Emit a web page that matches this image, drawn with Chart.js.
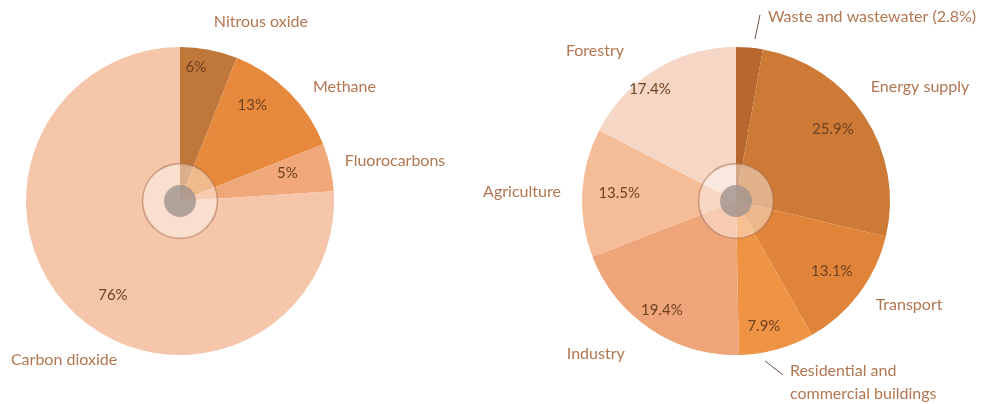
<!DOCTYPE html>
<html>
<head>
<meta charset="utf-8">
<script src="https://cdn.jsdelivr.net/npm/chart.js@4.4.1/dist/chart.umd.min.js"></script>
<style>
  html, body { margin: 0; padding: 0; background: #ffffff; }
  #wrap { position: relative; width: 987px; height: 404px; overflow: hidden; }
  canvas { position: absolute; top: 0; }
  #gasChart { left: 0; }
  #sectorChart { left: 460px; }
</style>
</head>
<body>
<div id="wrap">
  <canvas id="gasChart" width="460" height="404"></canvas>
  <canvas id="sectorChart" width="527" height="404"></canvas>
</div>
<script>
// greenhouse gases
const gasLabels = ['Nitrous oxide', 'Methane', 'Fluorocarbons', 'Carbon dioxide'];
const gasValues = [6, 13, 5, 76];
const gasColors = ['#c0773a', '#e6893c', '#f0a77a', '#f6c6ab'];

// sectors
const sectorLabels = ['Waste and wastewater (2.8%)', 'Energy supply', 'Transport',
  'Residential and|commercial buildings', 'Industry', 'Agriculture', 'Forestry'];
const sectorValues = [2.8, 25.9, 13.1, 7.9, 19.4, 13.5, 17.4];
const sectorColors = ['#b8682e', '#cc7a35', '#e0843a', '#ef9345', '#efa57a', '#f5bc98', '#f6d6c4'];

// label placement: angle offset from slice middle (deg) and distance in radii
const gasPctPos = [[-4, 0.876], [-8, 0.78], [-2, 0.72], [-7.7, 0.75]];
const gasNamePos = [[13.5, 1.276], [10.2, 1.30], [2.1, 1.42], [-7.1, 1.278]];

const sectorPctPos = [null, [-3.3, 0.784], [-0.8, 0.77], [2.7, 0.83], [0.4, 0.855], [0.8, 0.76], [-6.2, 0.917]];
const sectorNamePos = [[4.8, 1.213, 'left'], [1.5, 1.406], [-5.9, 1.311], [-2.3, 1.158, 'left'],
  [8.7, 1.347], [-0.7, 1.391], [-11.9, 1.337]];
const sectorLeaders = [[[1.65, 1.059], [2.3, 1.218]], null, null, [[5.0, 1.056], [0.2, 1.17]], null, null, null];

const nameColor = '#b27650';
const pctColor = '#6e4120';
const font = 'Lato, "Open Sans", sans-serif';

function polar(arc, da, f) {
  const mid = (arc.startAngle + arc.endAngle) / 2 + da * Math.PI / 180;
  const r = arc.outerRadius * f;
  return { x: arc.x + Math.cos(mid) * r, y: arc.y + Math.sin(mid) * r };
}

const piePlugin = {
  id: 'pieDecor',
  afterDatasetsDraw(chart, args, opts) {
    const ctx = chart.ctx;
    const arcs = chart.getDatasetMeta(0).data;
    const values = chart.data.datasets[0].data;
    const labels = chart.data.labels;
    const a0 = arcs[0];
    const R = a0.outerRadius;

    // centre hub
    ctx.save();
    ctx.beginPath();
    ctx.arc(a0.x, a0.y, R * 0.243, 0, Math.PI * 2);
    ctx.fillStyle = 'rgba(255,255,255,0.42)';
    ctx.fill();
    ctx.lineWidth = 1.6;
    ctx.strokeStyle = 'rgba(165,105,75,0.5)';
    ctx.stroke();
    ctx.beginPath();
    ctx.arc(a0.x, a0.y, R * 0.104, 0, Math.PI * 2);
    ctx.fillStyle = 'rgba(160,148,142,0.8)';
    ctx.fill();

    // percentages
    ctx.textBaseline = 'middle';
    ctx.font = '15px ' + font;
    ctx.fillStyle = pctColor;
    ctx.textAlign = 'center';
    arcs.forEach((arc, i) => {
      const p = opts.pct[i];
      if (!p) return;
      const pt = polar(arc, p[0], p[1]);
      const txt = (opts.decimals ? values[i].toFixed(1) : values[i]) + '%';
      ctx.fillText(txt, pt.x, pt.y);
    });

    // names
    ctx.font = '16px ' + font;
    ctx.fillStyle = nameColor;
    arcs.forEach((arc, i) => {
      const p = opts.names[i];
      const pt = polar(arc, p[0], p[1]);
      ctx.textAlign = p[2] || 'center';
      labels[i].split('|').forEach((line, k) => {
        ctx.fillText(line, pt.x, pt.y + k * 23);
      });
    });

    // leader lines
    ctx.strokeStyle = '#6b5448';
    ctx.lineWidth = 1;
    arcs.forEach((arc, i) => {
      const l = opts.leaders && opts.leaders[i];
      if (!l) return;
      const s = polar(arc, l[0][0], l[0][1]);
      const e = polar(arc, l[1][0], l[1][1]);
      ctx.beginPath();
      ctx.moveTo(s.x, s.y);
      ctx.lineTo(e.x, e.y);
      ctx.stroke();
    });
    ctx.restore();
  }
};

function makePie(id, labels, values, colors, padding, decor) {
  return new Chart(document.getElementById(id), {
    type: 'pie',
    data: {
      labels: labels,
      datasets: [{
        data: values,
        backgroundColor: colors,
        borderWidth: 0
      }]
    },
    options: {
      responsive: false,
      devicePixelRatio: 1,
      animation: false,
      layout: { padding: padding },
      plugins: {
        legend: { display: false },
        tooltip: { enabled: false },
        pieDecor: decor
      }
    },
    plugins: [piePlugin]
  });
}

makePie('gasChart', gasLabels, gasValues, gasColors,
  { left: 26, right: 126, top: 47, bottom: 49 },
  { pct: gasPctPos, names: gasNamePos, decimals: false });

makePie('sectorChart', sectorLabels, sectorValues, sectorColors,
  { left: 122, right: 97, top: 47, bottom: 49 },
  { pct: sectorPctPos, names: sectorNamePos, leaders: sectorLeaders, decimals: true });
</script>
</body>
</html>
